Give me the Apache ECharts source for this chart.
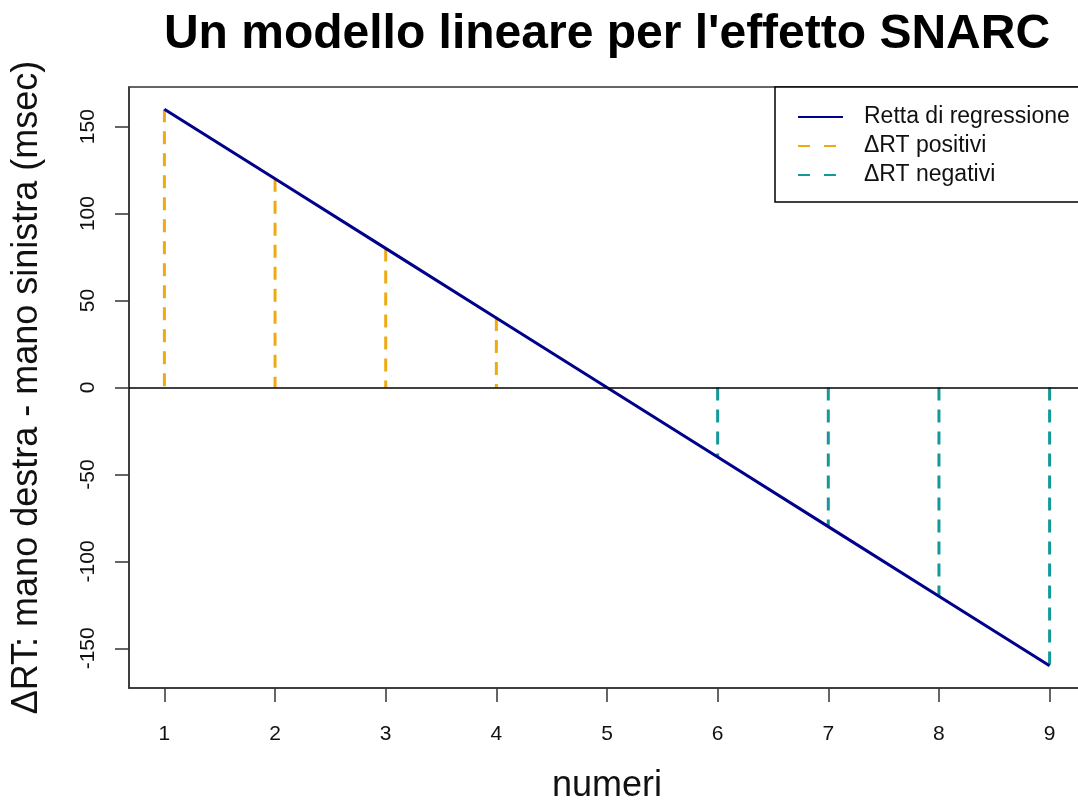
<!DOCTYPE html>
<html>
<head>
<meta charset="utf-8">
<script src="https://cdn.jsdelivr.net/npm/echarts@6/dist/echarts.min.js"></script>
<style>
html,body{margin:0;padding:0;background:#fff;}
#chart{width:1078px;height:802px;}
</style>
</head>
<body>
<div id="chart"></div>
<script>
// Data
var numeri = [1, 2, 3, 4, 5, 6, 7, 8, 9];
var deltaRT = [160, 120, 80, 40, 0, -40, -80, -120, -160];
var yTicks = [-150, -100, -50, 0, 50, 100, 150];
var xTicks = [1, 2, 3, 4, 5, 6, 7, 8, 9];

var FONT = '"Liberation Sans", Arial, Helvetica, sans-serif';

var regr = numeri.map(function (x, i) { return [x, deltaRT[i]]; });
var posData = [], negData = [];
numeri.forEach(function (x, i) {
  var v = deltaRT[i];
  if (v > 0) { posData.push([x, v], [x, 0], '-'); }
  else if (v < 0) { negData.push([x, 0], [x, v], '-'); }
});

var chart = echarts.init(document.getElementById('chart'), null, {renderer: 'canvas'});
chart.setOption({
  animation: false,
  backgroundColor: '#ffffff',
  title: {
    text: "Un modello lineare per l'effetto SNARC",
    left: 607,
    textAlign: 'center',
    top: 11,
    padding: 0,
    textStyle: {fontFamily: FONT, fontSize: 48, fontWeight: 'bold', color: '#000'}
  },
  legend: {
    orient: 'vertical',
    left: 775,
    top: 87,
    padding: [16, 40, 13, 22],
    itemGap: 1,
    itemWidth: 45,
    itemHeight: 14,
    backgroundColor: '#fff',
    borderColor: '#000',
    borderWidth: 1.5,
    borderRadius: 0,
    itemStyle: {opacity: 0},
    textStyle: {
      fontFamily: FONT, fontSize: 23, color: '#111', lineHeight: 28,
      padding: [0, 0, 0, 16]
    },
    data: [
      {name: 'Retta di regressione'},
      {name: 'ΔRT positivi', lineStyle: {type: [12, 14]}},
      {name: 'ΔRT negativi', lineStyle: {type: [12, 14]}}
    ]
  },
  grid: {
    left: 129, top: 87, width: 956, height: 601,
    outerBoundsMode: 'none',
    containLabel: false,
    show: true, borderColor: '#333', borderWidth: 1.5, backgroundColor: 'transparent'
  },
  xAxis: {
    type: 'value',
    min: 0.68, max: 9.32,
    name: 'numeri',
    nameLocation: 'middle',
    nameGap: 80,
    nameTextStyle: {fontFamily: FONT, fontSize: 36, color: '#111'},
    axisLine: {show: true, onZero: false, lineStyle: {color: '#333', width: 1.5}},
    axisTick: {show: true, inside: false, length: 14, customValues: xTicks, lineStyle: {color: '#333', width: 1.5}},
    axisLabel: {show: true, margin: 36, customValues: xTicks, fontFamily: FONT, fontSize: 21, color: '#111'},
    splitLine: {show: false}
  },
  yAxis: {
    type: 'value',
    min: -172.8, max: 172.8,
    name: 'ΔRT: mano destra - mano sinistra (msec)',
    nameLocation: 'middle',
    nameGap: 84,
    nameTextStyle: {fontFamily: FONT, fontSize: 36, color: '#111'},
    axisLine: {show: true, onZero: false, lineStyle: {color: '#333', width: 1.5}},
    axisTick: {show: true, inside: false, length: 14, customValues: yTicks, lineStyle: {color: '#333', width: 1.5}},
    axisLabel: {show: true, rotate: 90, margin: 30, customValues: yTicks, fontFamily: FONT, fontSize: 21, color: '#111'},
    splitLine: {show: false}
  },
  series: [
    {
      name: 'ΔRT positivi',
      type: 'line',
      data: posData,
      connectNulls: false,
      symbol: 'none',
      color: '#EFAA12',
      lineStyle: {color: '#EFAA12', width: 3, type: [13, 9]},
      z: 2
    },
    {
      name: 'ΔRT negativi',
      type: 'line',
      data: negData,
      connectNulls: false,
      symbol: 'none',
      color: '#13999A',
      lineStyle: {color: '#13999A', width: 3, type: [13, 9]},
      z: 2
    },
    {
      name: 'Retta di regressione',
      type: 'line',
      data: regr,
      symbol: 'none',
      color: '#00008B',
      lineStyle: {color: '#00008B', width: 3},
      z: 3,
      markLine: {
        silent: true,
        symbol: ['none', 'none'],
        label: {show: false},
        lineStyle: {color: '#000', width: 1.5, type: 'solid'},
        data: [{yAxis: 0}]
      }
    }
  ]
});
</script>
</body>
</html>
